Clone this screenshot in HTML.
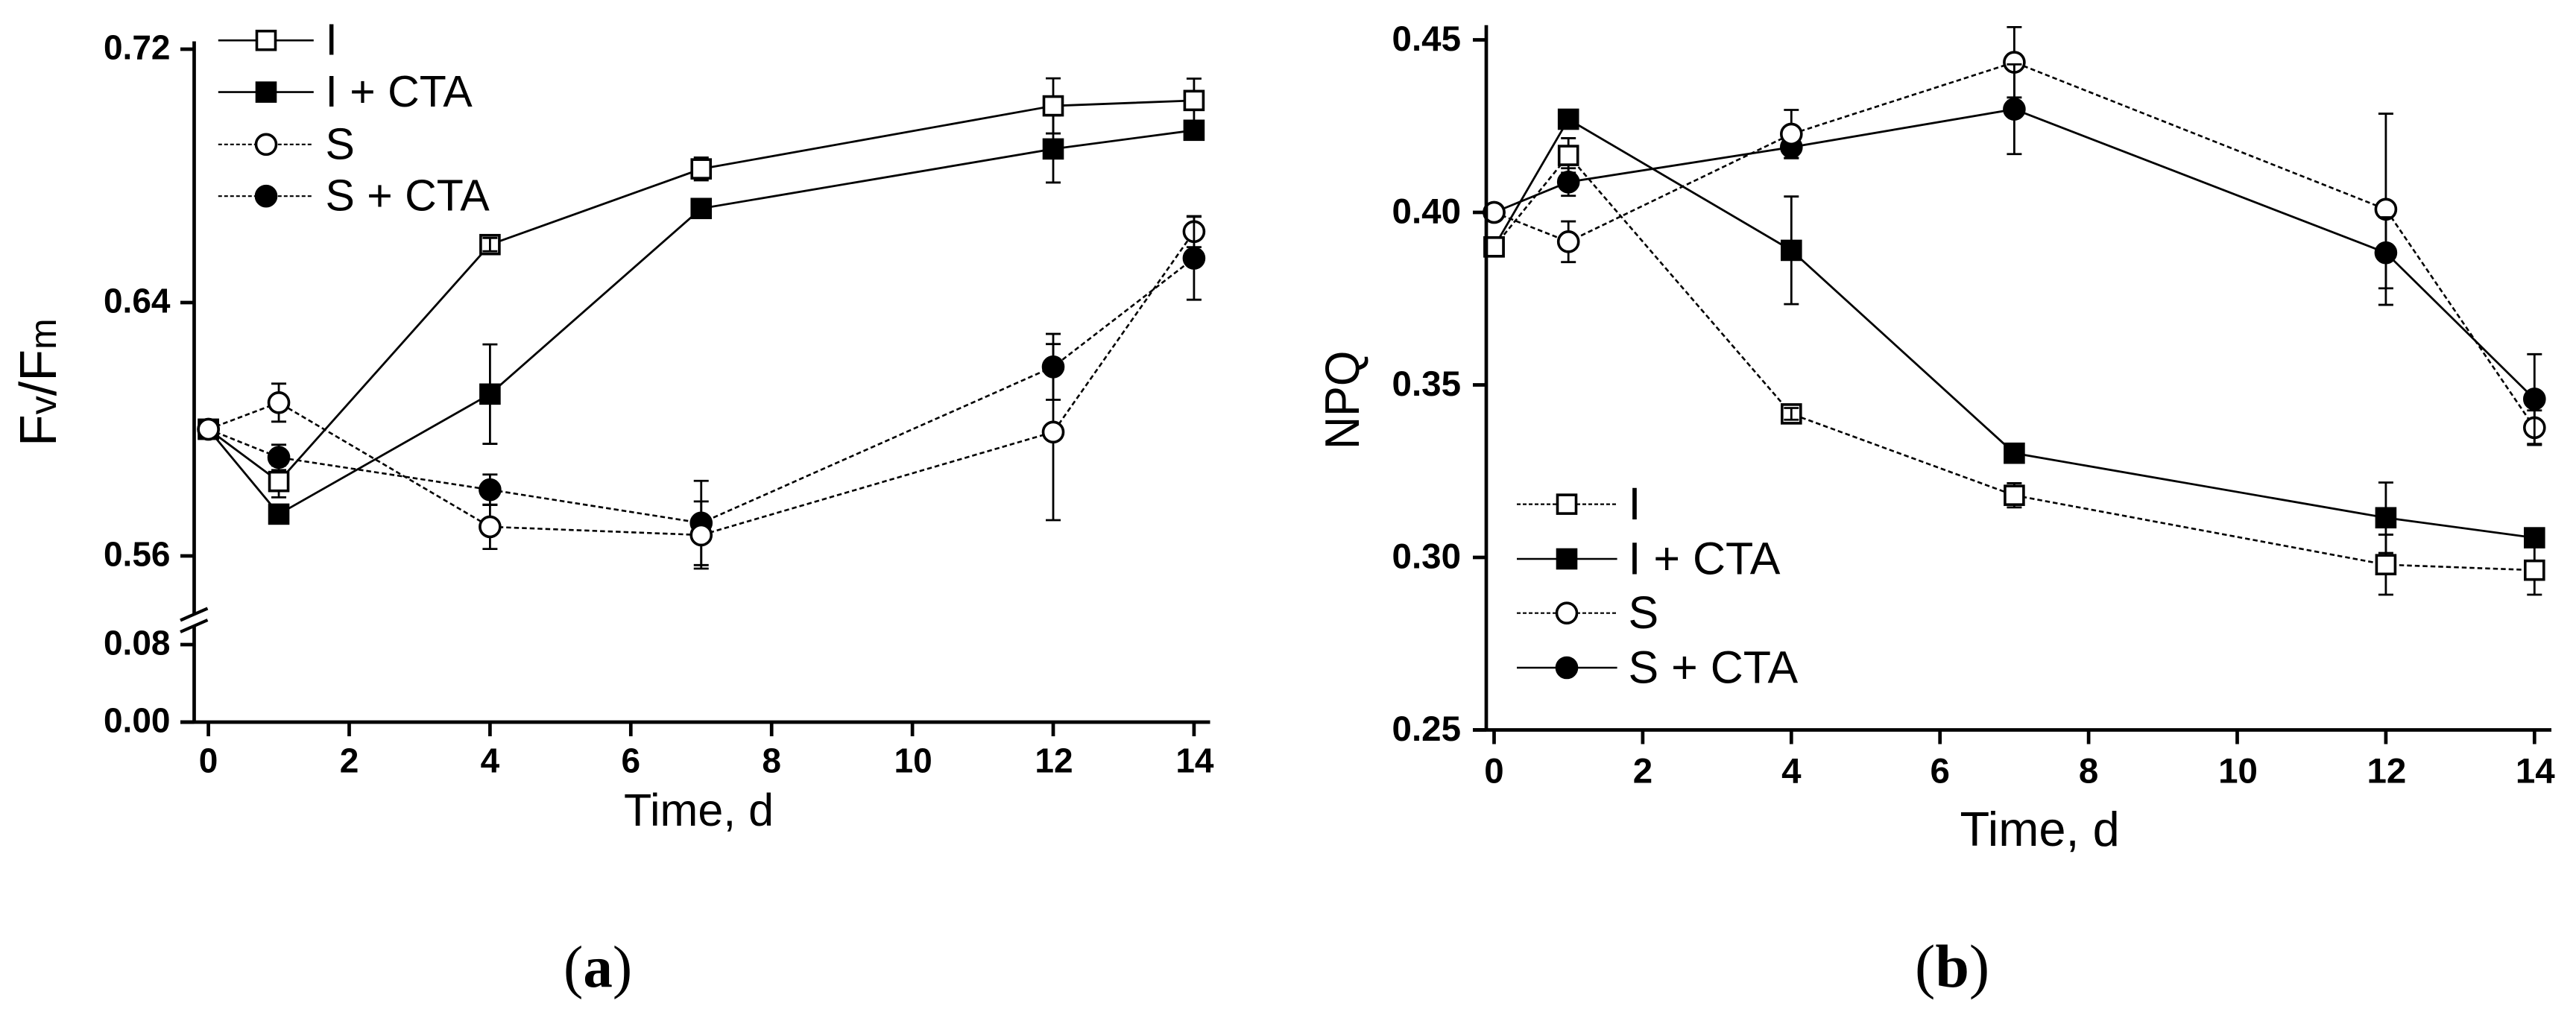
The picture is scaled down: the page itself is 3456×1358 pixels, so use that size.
<!DOCTYPE html>
<html lang="en">
<head>
<meta charset="utf-8">
<title>Fv/Fm and NPQ over time</title>
<style>
  html, body { margin: 0; padding: 0; background: #fff; }
  svg { display: block; }
  text { font-family: "Liberation Sans", sans-serif; fill: #000; }
  .serif { font-family: "Liberation Serif", serif; }
</style>
</head>
<body>
<svg id="figure" xmlns="http://www.w3.org/2000/svg" width="3456" height="1358" viewBox="0 0 3456 1358">
  <rect x="0" y="0" width="3456" height="1358" fill="#fff"/>
  <g id="panel-a"></g>
  <g id="panel-b"></g>

  <text transform="translate(75,599) rotate(-90)" font-size="70">F<tspan font-size="50">v</tspan>/F<tspan font-size="50">m</tspan></text>
  <text transform="translate(1823,603) rotate(-90) scale(0.94,1)" font-size="65">NPQ</text>
  <text x="837" y="1108" font-size="61">Time, d</text>
  <text x="2629.5" y="1135" font-size="65">Time, d</text>
  <text class="serif" x="756" y="1324" font-size="79">(<tspan font-weight="700">a</tspan>)</text>
  <text class="serif" x="2569" y="1324" font-size="82">(<tspan font-weight="700">b</tspan>)</text>
</svg>

<script>
// Shared categories
const days = [0, 1, 4, 7, 12, 14];
const xTickLabels = [0, 2, 4, 6, 8, 10, 12, 14];
const seriesNames = ['I', 'I + CTA', 'S', 'S + CTA'];

// Panel (a): Fv/Fm
const aTickValues = [0.72, 0.64, 0.56, 0.08, 0.00];
const aI        = [0.600, 0.5835, 0.6583, 0.6822, 0.7021, 0.7038];
const aIErr     = [0, 0.0050, 0.0021, 0.0036, 0.0087, 0.0069];
const aICta     = [0.600, 0.5732, 0.6111, 0.6697, 0.6885, 0.6944];
const aICtaErr  = [0, 0.0020, 0.0157, 0.0010, 0.0106, 0.0020];
const aS        = [0.600, 0.6084, 0.5692, 0.5666, 0.5991, 0.6624];
const aSErr     = [0, 0.0060, 0.0070, 0.0106, 0.0278, 0.0049];
const aSCta     = [0.600, 0.5911, 0.5809, 0.5704, 0.6197, 0.6540];
const aSCtaErr  = [0, 0.0040, 0.0048, 0.0133, 0.0104, 0.0131];
const aSOnTopDays = [0, 7];

// Panel (b): NPQ
const bTickValues = [0.45, 0.40, 0.35, 0.30, 0.25];
const bI        = [0.390, 0.4165, 0.3416, 0.3180, 0.2979, 0.2963];
const bIErr     = [0, 0.0050, 0.0017, 0.0035, 0.0087, 0.0071];
const bICta     = [0.390, 0.4270, 0.3890, 0.3302, 0.3115, 0.3057];
const bICtaErr  = [0, 0.0010, 0.0156, 0.0010, 0.0102, 0.0010];
const bS        = [0.400, 0.3915, 0.4227, 0.4435, 0.4009, 0.3376];
const bSErr     = [0, 0.0059, 0.0070, 0.0102, 0.0277, 0.0050];
const bSCta     = [0.400, 0.4088, 0.4189, 0.4299, 0.3883, 0.3459];
const bSCtaErr  = [0, 0.0040, 0.0031, 0.0130, 0.0103, 0.0130];
const bSOnTopDays = [0, 4];

const NS = 'http://www.w3.org/2000/svg';
function mk(parent, tag, attrs, name) {
  const el = document.createElementNS(NS, tag);
  for (const k in attrs) el.setAttribute(k, attrs[k]);
  
  
  parent.appendChild(el);
  return el;
}
const DASH = '6.5 4';
const MARKER_STROKE = 3.6;

function drawMarker(g, kind, cx, cy, name) {
  const filled = kind === 'I + CTA' || kind === 'S + CTA';
  const isSquare = kind === 'I' || kind === 'I + CTA';
  const sw = MARKER_STROKE;
  if (isSquare) {
    mk(g, 'rect', { x: cx - 12.5, y: cy - 12.5, width: 25, height: 25,
      fill: filled ? '#000' : '#fff', stroke: '#000', 'stroke-width': sw }, name);
  } else {
    mk(g, 'ellipse', { cx: cx, cy: cy, rx: 13.5, ry: 13.5,
      fill: filled ? '#000' : '#fff', stroke: '#000', 'stroke-width': sw }, name);
  }
}

function drawError(g, cx, y1, y2, label) {
  mk(g, 'line', { x1: cx, x2: cx, y1: y1, y2: y2, stroke: '#000', 'stroke-width': 2.8 }, label + '-stem');
  mk(g, 'line', { x1: cx - 10, x2: cx + 10, y1: y1, y2: y1, stroke: '#000', 'stroke-width': 2.8 }, label + '-cap-top');
  mk(g, 'line', { x1: cx - 10, x2: cx + 10, y1: y2, y2: y2, stroke: '#000', 'stroke-width': 2.8 }, label + '-cap-bottom');
}

function drawPanel(cfg) {
  const g = document.getElementById(cfg.id);
  const p = cfg.prefix;

  // Series lines
  seriesNames.forEach(function (s, i) {
    const pts = days.map(function (d, j) {
      return cfg.x(d) + ',' + cfg.y(cfg.values[i][j]);
    }).join(' ');
    const attrs = { points: pts, fill: 'none', stroke: '#000', 'stroke-width': cfg.dashed[i] ? 2.6 : 2.8 };
    if (cfg.dashed[i]) attrs['stroke-dasharray'] = DASH;
    mk(g, 'polyline', attrs, p + '-line-' + s.replace(/\W+/g, '-').toLowerCase());
  });

  // Error bars and markers, day by day so that overlaps stack correctly
  days.forEach(function (d, j) {
    const order = cfg.sOnTop.indexOf(d) >= 0 ? [1, 0, 3, 2] : [1, 0, 2, 3];
    order.forEach(function (i) {
      const s = seriesNames[i].replace(/\W+/g, '-').toLowerCase();
      const cx = cfg.x(d), v = cfg.values[i][j], e = cfg.errors[i][j];
      if (e > 0) {
        drawError(g, cx, cfg.y(v + e), cfg.y(v - e), p + '-error-' + s + '-day-' + d);
      }
      drawMarker(g, seriesNames[i], cx, cfg.y(v), p + '-point-' + s + '-day-' + d);
      // Short error bars on open squares remain visible inside the marker
      if (e > 0 && i === 0 && Math.abs(cfg.y(v + e) - cfg.y(v)) < 12) {
        drawError(g, cx, cfg.y(v + e), cfg.y(v - e), p + '-inner-error-' + s + '-day-' + d);
      }
    });
  });

  // Axes
  const AW = 4.7;
  cfg.yAxisSegments.forEach(function (seg, k) {
    mk(g, 'line', { x1: cfg.axisX, x2: cfg.axisX, y1: seg[0], y2: seg[1], stroke: '#000', 'stroke-width': AW }, p + '-y-axis-line-' + k);
  });
  mk(g, 'line', { x1: cfg.axisLeft, x2: cfg.axisRight, y1: cfg.axisY, y2: cfg.axisY, stroke: '#000', 'stroke-width': AW }, p + '-x-axis-line');

  // Y ticks
  cfg.yTicks.forEach(function (v) {
    const y = cfg.y(v);
    mk(g, 'line', { x1: cfg.axisLeft, x2: cfg.axisX, y1: y, y2: y, stroke: '#000', 'stroke-width': AW }, p + '-y-tick-' + v.toFixed(2));
    const t = mk(g, 'text', { x: cfg.yLabelX, y: y + cfg.yLabelDy, 'font-size': cfg.tickFont, 'font-weight': 700, 'text-anchor': 'end' }, p + '-y-tick-label-' + v.toFixed(2));
    t.textContent = v.toFixed(2);
  });

  // X ticks
  xTickLabels.forEach(function (d) {
    const x = cfg.x(d);
    mk(g, 'line', { x1: x, x2: x, y1: cfg.axisY, y2: cfg.axisY + 19, stroke: '#000', 'stroke-width': AW }, p + '-x-tick-' + d);
    const t = mk(g, 'text', { x: x + (d >= 10 ? 1 : 0), y: cfg.xLabelY, 'font-size': cfg.tickFont, 'font-weight': 700, 'text-anchor': 'middle' }, p + '-x-tick-label-' + d);
    t.textContent = String(d);
  });

  // Axis break
  if (cfg.breakSlashes) {
    cfg.breakSlashes.forEach(function (b, k) {
      mk(g, 'line', { x1: cfg.axisLeft, x2: cfg.axisX + 18, y1: b + 8, y2: b - 8, stroke: '#000', 'stroke-width': 4.2 }, p + '-axis-break-' + k);
    });
  }

  // Legend
  seriesNames.forEach(function (s, i) {
    const key = s.replace(/\W+/g, '-').toLowerCase();
    const ly = cfg.legendY[i];
    const attrs = { x1: cfg.legendX1, x2: cfg.legendX2, y1: ly, y2: ly, stroke: '#000', 'stroke-width': cfg.legendDashed[i] ? 2.2 : 2.6 };
    if (cfg.legendDashed[i]) attrs['stroke-dasharray'] = '5 3';
    mk(g, 'line', attrs, p + '-legend-line-' + key);
    drawMarker(g, s, cfg.legendMarkerX, ly, p + '-legend-marker-' + key);
    const t = mk(g, 'text', { x: cfg.legendTextX, y: ly + cfg.legendTextDy, 'font-size': cfg.legendFont }, p + '-legend-label-' + key);
    t.textContent = s;
  });
}

// Axis functions, panel (a): broken y axis
function xA(d) { return 279.6 + 94.45 * d; }
function yA(v) { return v <= 0.2 ? 969 - 1300 * v : 746 - 4250 * (v - 0.56); }
// Axis functions, panel (b)
function xB(d) { return 2004.5 + 99.7 * d; }
function yB(v) { return 979.5 - 4630 * (v - 0.25); }

drawPanel({
  id: 'panel-a', prefix: 'panel-a', x: xA, y: yA,
  values: [aI, aICta, aS, aSCta],
  errors: [aIErr, aICtaErr, aSErr, aSCtaErr],
  dashed: [false, false, true, true],
  sOnTop: aSOnTopDays,
  yTicks: aTickValues,
  axisX: 260.5, axisY: 969, axisLeft: 242, axisRight: 1623.5,
  yAxisSegments: [[55.5, 824], [840, 971]],
  breakSlashes: [824.4, 840],
  tickFont: 46, yLabelX: 228.5, yLabelDy: 13.5, xLabelY: 1036.7,
  legendY: [54.2, 123.6, 193.8, 263.2],
  legendX1: 292.8, legendX2: 420.8, legendMarkerX: 357,
  legendDashed: [false, false, true, true],
  legendTextX: 436.5, legendTextDy: 19.5, legendFont: 59
});

drawPanel({
  id: 'panel-b', prefix: 'panel-b', x: xB, y: yB,
  values: [bI, bICta, bS, bSCta],
  errors: [bIErr, bICtaErr, bSErr, bSCtaErr],
  dashed: [true, false, true, false],
  sOnTop: bSOnTopDays,
  yTicks: bTickValues,
  axisX: 1994, axisY: 979.5, axisLeft: 1976, axisRight: 3423,
  yAxisSegments: [[33.8, 981]],
  breakSlashes: null,
  tickFont: 47.5, yLabelX: 1960, yLabelDy: 14.5, xLabelY: 1050.5,
  legendY: [676.6, 750, 822.7, 896],
  legendX1: 2035, legendX2: 2169.6, legendMarkerX: 2102,
  legendDashed: [true, false, true, false],
  legendTextX: 2184.5, legendTextDy: 20.5, legendFont: 61
});
</script>
</body>
</html>
